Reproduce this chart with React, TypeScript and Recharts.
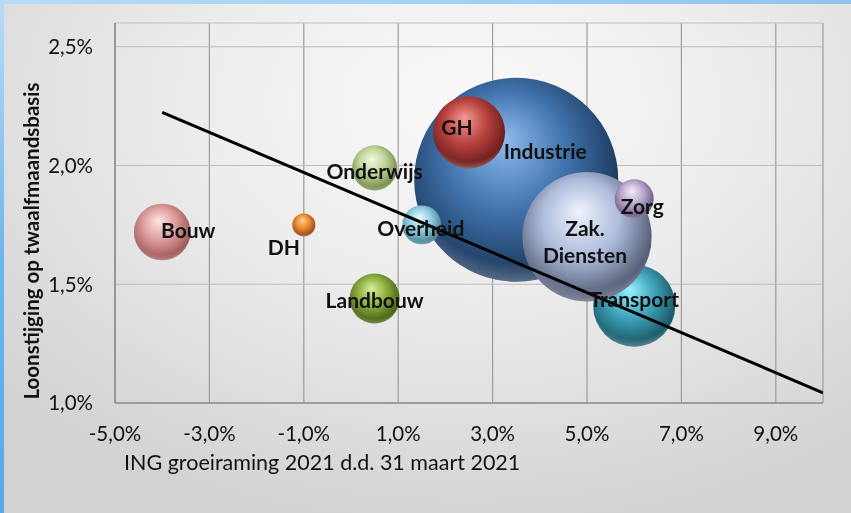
import React from "react";
import {
  ScatterChart,
  Scatter,
  XAxis,
  YAxis,
  ZAxis,
  CartesianGrid,
  LabelList,
} from "recharts";

// Sectors, drawn in this order (later ones sit on top).
const SECTORS = [
  "Industrie",
  "GH",
  "Overheid",
  "Transport",
  "Zak. Diensten",
  "Zorg",
  "Onderwijs",
  "Landbouw",
  "Bouw",
  "DH",
];
// ING groeiraming 2021 (%)
const GROEI = [3.5, 2.5, 1.5, 6.0, 5.0, 6.0, 0.5, 0.5, -4.0, -1.0];
// Loonstijging op twaalfmaandsbasis (%)
const LOONSTIJGING = [1.94, 2.14, 1.75, 1.41, 1.7, 1.86, 1.99, 1.44, 1.72, 1.75];
// Bubble weight (relative size)
const GEWICHT = [100, 12.5, 3.65, 16.2, 40.2, 3.65, 4.87, 6.0, 7.7, 1.27];

// Trend line end points
const TREND_X = [-4, 10];
const TREND_Y = [2.224, 1.043];

const X_TICKS = [-5, -3, -1, 1, 3, 5, 7, 9];
const Y_TICKS = [1.0, 1.5, 2.0, 2.5];

const bubbles = SECTORS.map((name, i) => ({
  name,
  x: GROEI[i],
  y: LOONSTIJGING[i],
  z: GEWICHT[i],
}));
const trend = TREND_X.map((x, i) => ({ x, y: TREND_Y[i] }));

// [highlight, base, edge]
const COLORS: Record<string, string[]> = {
  Industrie: ["#8fbcef", "#4072ac", "#1d3a5e"],
  GH: ["#f59a96", "#b8423f", "#6e1f1d"],
  Overheid: ["#e6f8fd", "#8fcbe0", "#4a8596"],
  Transport: ["#9af2ff", "#3ea2b8", "#1b5a68"],
  "Zak. Diensten": ["#eef3fc", "#aebcdc", "#565f78"],
  Zorg: ["#f3ecfa", "#b8a7cb", "#6c5d7e"],
  Onderwijs: ["#f1f8e0", "#bed497", "#778c4c"],
  Landbouw: ["#d9f295", "#8aab3e", "#4a6418"],
  Bouw: ["#fde6e6", "#dd9a9a", "#a05a5a"],
  DH: ["#ffcf8f", "#e88a2e", "#9a4c15"],
};

// label centre relative to bubble centre
const LABEL_OFFSET: Record<string, [number, number]> = {
  Industrie: [29, -30],
  GH: [-12, -6],
  Overheid: [-1, 2],
  Transport: [0, -8],
  "Zak. Diensten": [-2, 4],
  Zorg: [8, 6],
  Onderwijs: [0, 2],
  Landbouw: [0, 0],
  Bouw: [26, -3],
  DH: [-20, 21],
};

const FONT = "Lato, 'Liberation Sans', Arial, sans-serif";
const pct = (v: number) => v.toFixed(1).replace(".", ",") + "%";

function Sphere(props: any) {
  const { cx, cy, payload, index } = props;
  const r = Math.sqrt(Math.max(props.size || 0, 0) / Math.PI);
  const c = COLORS[payload.name];
  const id = "sph" + index;
  return (
    <g>
      <defs>
        <radialGradient id={id} cx="0.46" cy="0.42" r="0.6" fx="0.44" fy="0.3">
          <stop offset="0" stopColor={c[0]} />
          <stop offset="0.5" stopColor={c[1]} />
          <stop offset="0.92" stopColor={c[2]} />
          <stop offset="1" stopColor={c[2]} />
        </radialGradient>
        <radialGradient id={id + "r"} cx="0.5" cy="0.35" r="0.68">
          <stop offset="0.82" stopColor="#ffffff" stopOpacity="0" />
          <stop offset="1" stopColor="#ffffff" stopOpacity="0.35" />
        </radialGradient>
      </defs>
      <circle cx={cx} cy={cy} r={r} fill={`url(#${id})`} />
      <circle cx={cx} cy={cy} r={r} fill={`url(#${id}r)`} />
    </g>
  );
}

function BubbleLabel(props: any) {
  const vb = props.viewBox || props;
  const name = String(props.value);
  const cx = vb.x + vb.width / 2;
  const cy = vb.y + vb.height / 2;
  const [dx, dy] = LABEL_OFFSET[name] || [0, 0];
  const lines = name.includes(" ") ? name.split(" ") : [name];
  const lh = 27;
  const y0 = cy + dy - ((lines.length - 1) * lh) / 2;
  return (
    <text
      x={cx + dx}
      y={y0}
      textAnchor="middle"
      dominantBaseline="central"
      fontFamily={FONT}
      fontWeight={700}
      fontSize={21}
      fill="#111"
    >
      {lines.map((l, i) => (
        <tspan key={i} x={cx + dx} y={y0 + i * lh}>
          {l}
        </tspan>
      ))}
    </text>
  );
}

export default function App() {
  return (
    <div
      style={{
        position: "fixed",
        left: 0,
        top: 0,
        width: 851,
        height: 513,
        overflow: "hidden",
        background:
          "radial-gradient(ellipse 75% 85% at 55% 20%, #f9f9f9 0%, #ededed 42%, #d2d2d2 100%)",
      }}
    >
      <div
        style={{
          position: "absolute",
          left: 0,
          top: 0,
          width: 851,
          height: 4,
          background: "linear-gradient(90deg, #b6dcf8, #9fd0f4 60%, #8cc4ee)",
        }}
      />
      <div
        style={{
          position: "absolute",
          left: 0,
          top: 0,
          width: 4,
          height: 513,
          background: "linear-gradient(180deg, #b6dcf8, #6cb6ec 50%, #57a9e6)",
        }}
      />
      <div style={{ position: "absolute", left: 0, top: 0 }}>
        <ScatterChart
          width={851}
          height={513}
          margin={{ top: 23, right: 28, bottom: 0, left: 0 }}
        >
          <CartesianGrid horizontal={false} stroke="#9c9c9c" strokeWidth={1.2} />
          <CartesianGrid vertical={false} stroke="#bdbdbd" strokeWidth={1.2} />
          <XAxis
            type="number"
            dataKey="x"
            domain={[-5, 10]}
            ticks={X_TICKS}
            allowDataOverflow
            tickFormatter={pct}
            height={110}
            tickLine={false}
            tickSize={0}
            tickMargin={23}
            axisLine={{ stroke: "#8c8c8c", strokeWidth: 1.5 }}
            tick={{ fill: "#111", fontSize: 20.5, fontFamily: FONT }}
            label={{
              content: () => (
                <text
                  x={124}
                  y={470}
                  fontFamily={FONT}
                  fontSize={21.5}
                  fill="#111"
                >
                  ING groeiraming 2021 d.d. 31 maart 2021
                </text>
              ),
            }}
          />
          <YAxis
            type="number"
            dataKey="y"
            domain={[1.0, 2.6]}
            ticks={Y_TICKS}
            allowDataOverflow
            tickFormatter={pct}
            width={115}
            tickLine={false}
            tickSize={0}
            tickMargin={22}
            axisLine={{ stroke: "#8c8c8c", strokeWidth: 1.5 }}
            tick={{ fill: "#111", fontSize: 20.5, fontFamily: FONT }}
            label={{
              content: () => (
                <text
                  transform="translate(31,241) rotate(-90)"
                  textAnchor="middle"
                  dominantBaseline="central"
                  fontFamily={FONT}
                  fontWeight={700}
                  fontSize={20.5}
                  fill="#111"
                >
                  Loonstijging op twaalfmaandsbasis
                </text>
              ),
            }}
          />
          <ZAxis type="number" dataKey="z" domain={[0, 100]} range={[0, 32685]} />
          <Scatter data={bubbles} shape={Sphere} isAnimationActive={false}>
            <LabelList dataKey="name" content={BubbleLabel} />
          </Scatter>
          <Scatter
            data={trend}
            line={{ stroke: "#000", strokeWidth: 3 }}
            shape={() => <g />}
            isAnimationActive={false}
          />
        </ScatterChart>
      </div>
    </div>
  );
}
